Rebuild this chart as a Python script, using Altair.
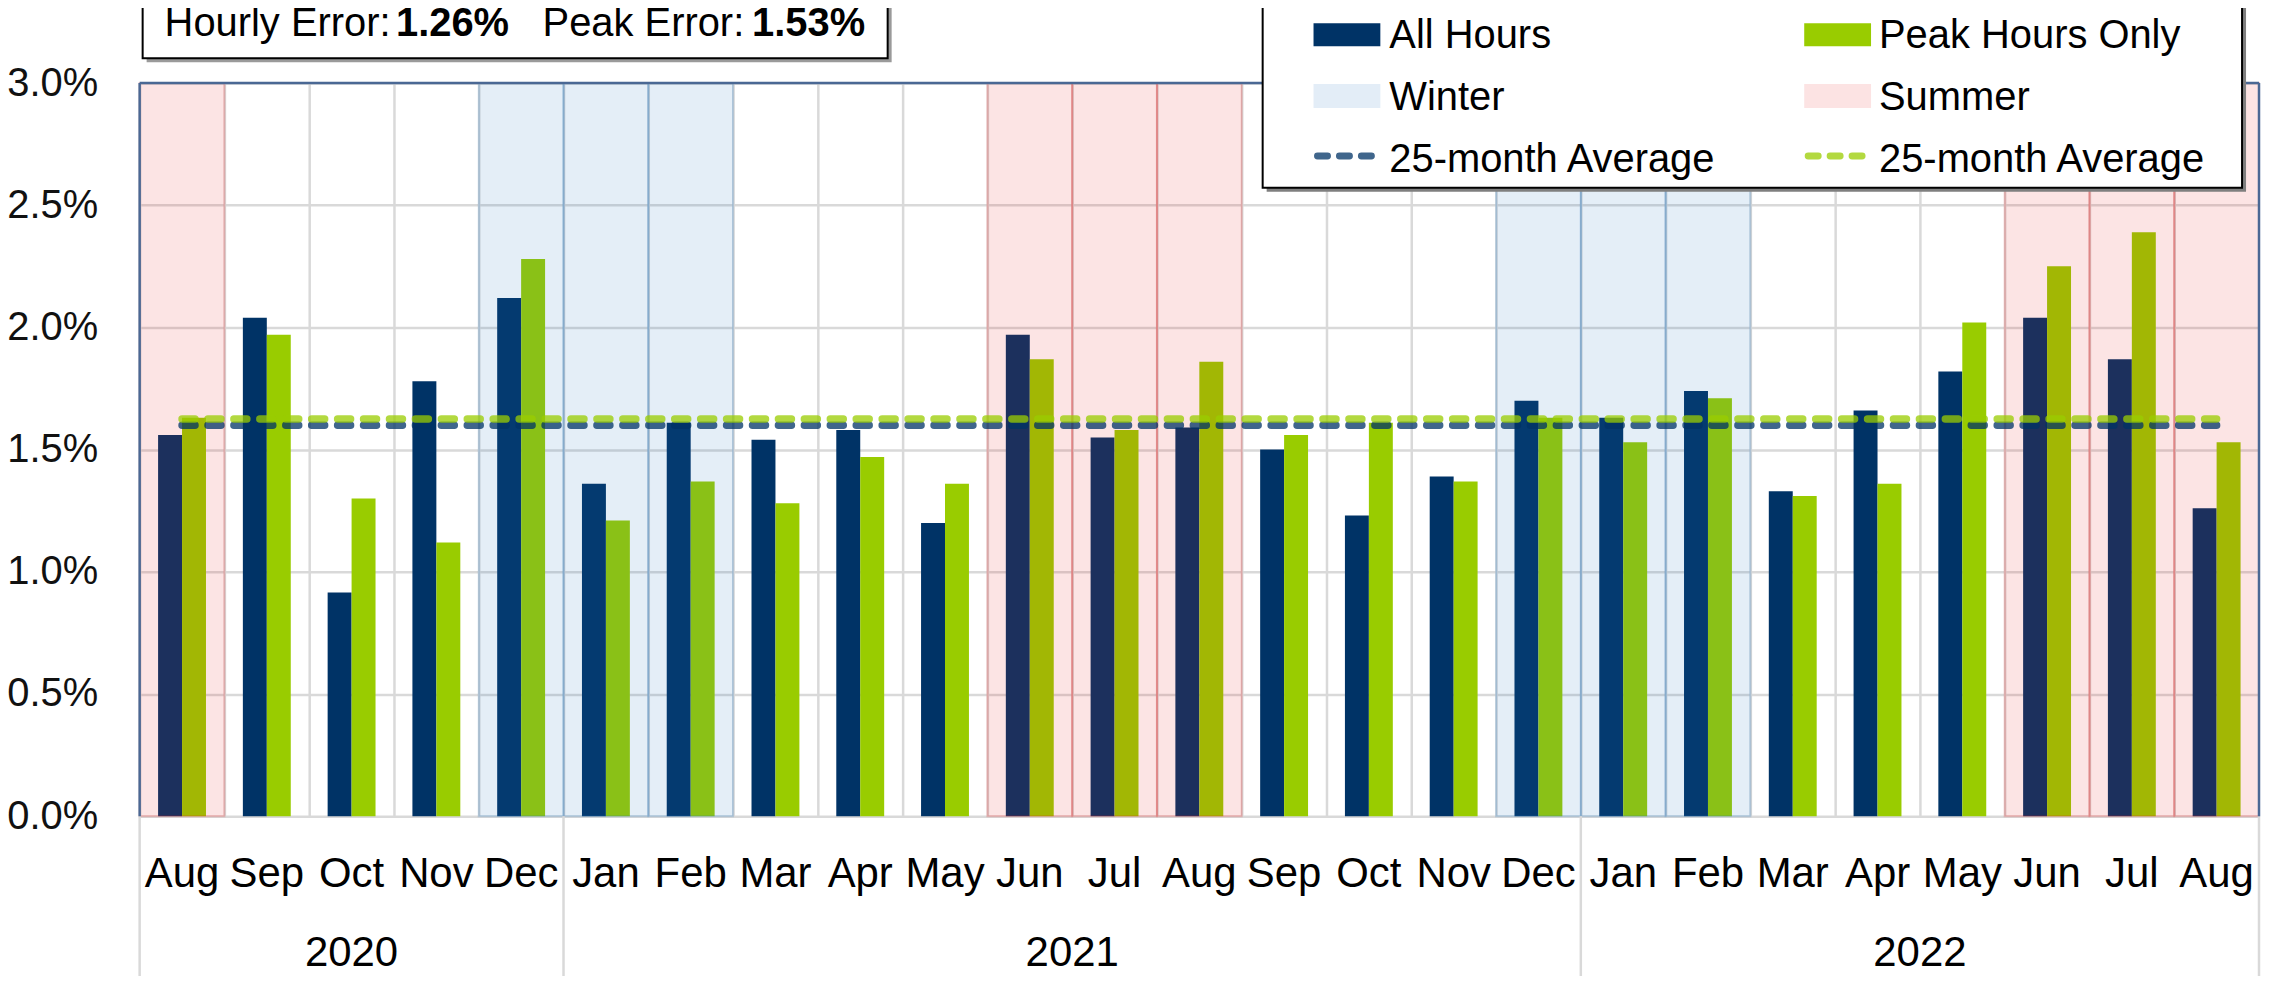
import altair as alt
import pandas as pd

# ---------------- data ----------------
months = ["Aug", "Sep", "Oct", "Nov", "Dec",
          "Jan", "Feb", "Mar", "Apr", "May", "Jun", "Jul", "Aug", "Sep", "Oct", "Nov", "Dec",
          "Jan", "Feb", "Mar", "Apr", "May", "Jun", "Jul", "Aug"]
year_names = ["2020", "2021", "2022"]
year_counts = [5, 12, 8]
all_hours = [1.56, 2.04, 0.915, 1.78, 2.12, 1.36, 1.61, 1.54, 1.58, 1.20, 1.97, 1.55, 1.59,
             1.50, 1.23, 1.39, 1.70, 1.63, 1.74, 1.33, 1.66, 1.82, 2.04, 1.87, 1.26]
peak_hours = [1.63, 1.97, 1.30, 1.12, 2.28, 1.21, 1.37, 1.28, 1.47, 1.36, 1.87, 1.58, 1.86,
              1.56, 1.61, 1.37, 1.63, 1.53, 1.71, 1.31, 1.36, 2.02, 2.25, 2.39, 1.53]
series_names = ["All Hours", "Peak Hours Only"]
avg_all = 1.60
avg_peak = 1.625
winter_months = ["Dec", "Jan", "Feb"]
summer_months = ["Jun", "Jul", "Aug"]
y_ticks = [0.0, 0.5, 1.0, 1.5, 2.0, 2.5, 3.0]
box_texts = ["Hourly Error:", "1.26%", "Peak Error:", "1.53%"]
legend_avg_label = "25-month Average"

# ---------------- style ----------------
NAVY = "#003366"
GREEN = "#99CC00"
WINTER = "#1E71BC"
SUMMER = "#E61E1E"
GRID = "#D9D9D9"
BORDER = "#4A6894"
FONT = "Liberation Sans, Arial, sans-serif"
W, H = 2125, 735
n = len(months)

bars = pd.DataFrame({
    "i": list(range(n)) * 2,
    "series": [series_names[0]] * n + [series_names[1]] * n,
    "value": all_hours + peak_hours,
})
season_df = pd.DataFrame({"i": list(range(n)), "month": months})
season_df["season"] = season_df["month"].map(
    lambda m: "Winter" if m in winter_months else ("Summer" if m in summer_months else "None"))
avg_df = pd.DataFrame({
    "i": [0, n - 1, 0, n - 1],
    "series": [series_names[0]] * 2 + [series_names[1]] * 2,
    "avg": [avg_all, avg_all, avg_peak, avg_peak],
})
starts = [sum(year_counts[:k]) for k in range(len(year_counts))]
year_df = pd.DataFrame({"year": year_names,
                        "c": [s + c / 2 for s, c in zip(starts, year_counts)]})
sep_df = pd.DataFrame({"p": starts + [n]})
dummy = pd.DataFrame({"d": [0]})

label_expr = "[" + ",".join("'%s'" % m for m in months) + "][datum.value]"

band_scale = alt.Scale(domain=list(range(n)), paddingInner=0, paddingOuter=0)
x_axis = alt.Axis(title=None, labelExpr=label_expr, labelAngle=0, ticks=False, tickSize=0,
                  domain=False, grid=True, gridColor=GRID, gridWidth=2.5, bandPosition=0,
                  labelFontSize=42, labelColor="#000000", labelPadding=58,
                  labelBaseline="middle", labelFont=FONT)
y_scale = alt.Scale(domain=[0, 3], nice=False, zero=True)
y_axis = alt.Axis(title=None, values=y_ticks, labelExpr="format(datum.value, '.1f') + '%'",
                  ticks=False, tickSize=0, domain=False, grid=True, gridColor=GRID,
                  gridWidth=2.5, labelFontSize=40, labelColor="#111111", labelPadding=42,
                  labelFont=FONT)
color_scale = alt.Scale(domain=series_names, range=[NAVY, GREEN])
quant_x = alt.Scale(domain=[0, n], nice=False, zero=False)

bar_layer = alt.Chart(bars).mark_bar().encode(
    x=alt.X("i:O", scale=band_scale, axis=x_axis),
    xOffset=alt.XOffset("i_series:N", sort=series_names,
                        scale=alt.Scale(paddingOuter=0.77, paddingInner=0)),
    y=alt.Y("value:Q", scale=y_scale, axis=y_axis),
    color=alt.Color("series:N", scale=color_scale, legend=None),
).transform_calculate(i_series="datum.series")


def shade(season, col):
    return alt.Chart(season_df).transform_filter(
        alt.datum.season == season
    ).mark_rect(fill=col, fillOpacity=0.12, stroke=col, strokeOpacity=0.2,
                strokeWidth=2).encode(
        x=alt.X("i:O", scale=band_scale, axis=None),
        y=alt.value(0), y2=alt.value(H),
    )


winter_layer = shade("Winter", WINTER)
summer_layer = shade("Summer", SUMMER)

avg_layer = alt.Chart(avg_df).mark_line(
    strokeDash=[13, 13], strokeWidth=7.5, strokeCap="round", opacity=0.75
).encode(
    x=alt.X("i:O", scale=band_scale, axis=None),
    y=alt.Y("avg:Q", scale=y_scale, axis=y_axis),
    color=alt.Color("series:N", scale=color_scale, legend=None),
    detail="series:N",
)

sep_layer = alt.Chart(sep_df).mark_rule(color=GRID, strokeWidth=2.5).encode(
    x=alt.X("p:Q", scale=quant_x, axis=None),
    y=alt.value(H), y2=alt.value(H + 200),
)
year_layer = alt.Chart(year_df).mark_text(
    fontSize=42, font=FONT, baseline="middle", align="center", color="#000000"
).encode(
    x=alt.X("c:Q", scale=quant_x, axis=None),
    y=alt.value(872),
    text="year:N",
)


def rect(x, x2, y, y2, **kw):
    return alt.Chart(dummy).mark_rect(**kw).encode(
        x=alt.value(x), x2=alt.value(x2), y=alt.value(y), y2=alt.value(y2))


def rule(x, x2, y, y2, **kw):
    return alt.Chart(dummy).mark_rule(**kw).encode(
        x=alt.value(x), x2=alt.value(x2), y=alt.value(y), y2=alt.value(y2))


def text(t, x, y, **kw):
    return alt.Chart(dummy).mark_text(text=t, align="left", baseline="alphabetic",
                                      font=FONT, color="#000000", **kw).encode(
        x=alt.value(x), y=alt.value(y))


border = [
    rule(0, W, 0, 0, color=BORDER, strokeWidth=2.5),
    rule(0, 0, 0, H, color=BORDER, strokeWidth=2.5),
    rule(W, W, 0, H, color=BORDER, strokeWidth=2.5),
]

# error text box
box = [
    rect(7, 754, -100, -21, fill="#9a9a9a"),
    rect(3, 750, -100, -25, fill="white", stroke="#000000", strokeWidth=2),
    text(box_texts[0], 25, -47, fontSize=40),
    text(box_texts[1], 257, -47, fontSize=40, fontWeight="bold"),
    text(box_texts[2], 404, -47, fontSize=40),
    text(box_texts[3], 614, -47, fontSize=40, fontWeight="bold"),
]

# legend
LX, LX2, LY2 = 1126, 2108, 105
c1s, c1e, c1t = 1177, 1244, 1253
c2s, c2e, c2t = 1669, 1736, 1744
legend = [
    rect(LX + 4, LX2 + 4, -100, LY2 + 4, fill="#7f7f7f"),
    rect(LX, LX2, -100, LY2, fill="white", stroke="#000000", strokeWidth=2),
    rect(c1s, c1e, -60, -37, fill=NAVY),
    text(series_names[0], c1t, -35, fontSize=40),
    rect(c2s, c2e, -60, -37, fill=GREEN),
    text(series_names[1], c2t, -35, fontSize=40),
    rect(c1s, c1e, 1, 25, fill="#E3EDF7"),
    text("Winter", c1t, 27, fontSize=40),
    rect(c2s, c2e, 1, 25, fill="#FCE3E3"),
    text("Summer", c2t, 27, fontSize=40),
    rule(c1s + 4, c1e - 4, 73, 73, color=NAVY, opacity=0.75, strokeWidth=7,
         strokeDash=[10, 12], strokeCap="round"),
    text(legend_avg_label, c1t, 89, fontSize=40),
    rule(c2s + 4, c2e - 4, 73, 73, color=GREEN, opacity=0.75, strokeWidth=7,
         strokeDash=[10, 12], strokeCap="round"),
    text(legend_avg_label, c2t, 89, fontSize=40),
]

chart = alt.layer(
    bar_layer, winter_layer, summer_layer, avg_layer, sep_layer, year_layer,
    *border, *box, *legend
).resolve_scale(x="independent").properties(
    width=W, height=H,
    padding={"left": 132, "top": 74, "right": 3, "bottom": 159},
    autosize=alt.AutoSizeParams(type="none"),
).configure_view(stroke=None).configure(font=FONT)

chart.save("out.html", embed_options={"renderer": "svg", "actions": False})
